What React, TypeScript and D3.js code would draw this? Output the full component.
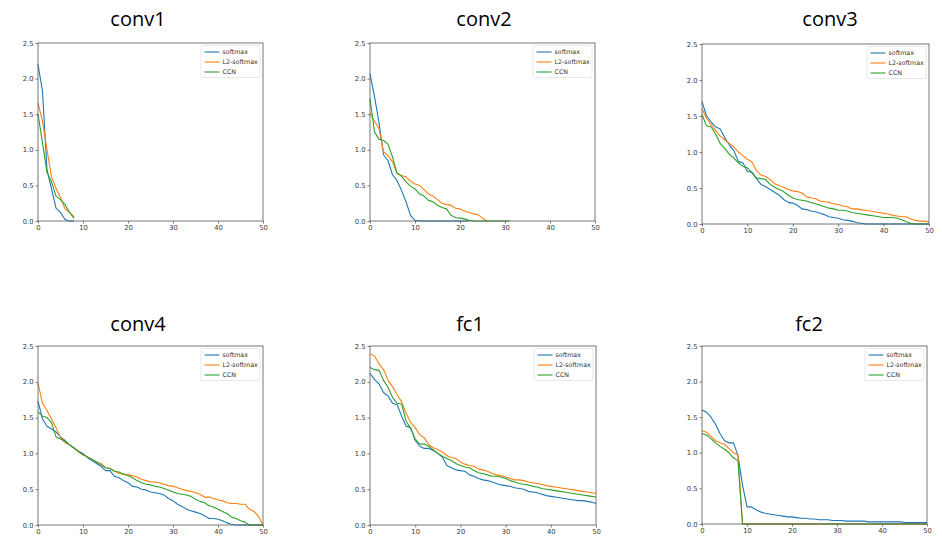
import { useEffect, useRef } from 'react'
import * as d3 from 'd3'

// ── 데이터 ──
const SERIES_NAMES = ['softmax', 'L2-softmax', 'CCN']
const COLORS = ['#1f77b4', '#ff7f0e', '#2ca02c']
const X_TICKS = [0, 10, 20, 30, 40, 50]
const Y_TICKS = [0, 0.5, 1.0, 1.5, 2.0, 2.5]
const TITLES = ['conv1', 'conv2', 'conv3', 'conv4', 'fc1', 'fc2']

const conv1Softmax = [2.2, 1.82, 0.72, 0.45, 0.18, 0.12, 0.02, 0.0, 0.0]
const conv1L2 = [1.66, 1.4, 1.0, 0.62, 0.46, 0.33, 0.17, 0.12, 0.06]
const conv1CCN = [1.5, 1.1, 0.68, 0.55, 0.35, 0.3, 0.23, 0.12, 0.04]

const conv2Softmax = [2.07, 1.75, 1.38, 0.93, 0.85, 0.65, 0.57, 0.43, 0.27, 0.08, 0.01,
  0, 0, 0, 0, 0, 0, 0, 0, 0, 0, 0, 0]
const conv2L2 = [1.52, 1.4, 1.3, 0.97, 0.92, 0.83, 0.67, 0.64, 0.62, 0.56, 0.52, 0.5, 0.44,
  0.38, 0.35, 0.3, 0.25, 0.23, 0.22, 0.18, 0.17, 0.14, 0.12, 0.1, 0.09, 0.04, 0.0]
const conv2CCN = [1.72, 1.25, 1.15, 1.13, 1.08, 0.9, 0.67, 0.63, 0.55, 0.49, 0.45, 0.38, 0.35,
  0.29, 0.27, 0.22, 0.19, 0.17, 0.08, 0.05, 0.04, 0.03, 0.01, 0, 0, 0, 0, 0, 0, 0, 0, 0]

const conv3Softmax = [1.7, 1.5, 1.42, 1.35, 1.32, 1.2, 1.1, 1.02, 0.87, 0.85, 0.73, 0.72, 0.63,
  0.55, 0.52, 0.48, 0.44, 0.4, 0.34, 0.3, 0.29, 0.26, 0.21, 0.2, 0.18, 0.17, 0.15, 0.13, 0.1,
  0.09, 0.08, 0.06, 0.05, 0.04, 0.02, 0.01, 0, 0, 0, 0, 0, 0, 0, 0, 0, 0, 0, 0, 0, 0, 0]
const conv3L2 = [1.6, 1.47, 1.38, 1.3, 1.22, 1.17, 1.12, 1.07, 1.0, 0.95, 0.9, 0.86, 0.74,
  0.68, 0.66, 0.62, 0.56, 0.53, 0.51, 0.48, 0.46, 0.45, 0.43, 0.38, 0.36, 0.35, 0.32, 0.31,
  0.3, 0.28, 0.27, 0.25, 0.24, 0.21, 0.21, 0.2, 0.19, 0.18, 0.17, 0.16, 0.15, 0.14, 0.12,
  0.11, 0.1, 0.1, 0.07, 0.05, 0.04, 0.04, 0.03]
const conv3CCN = [1.52, 1.36, 1.35, 1.25, 1.12, 1.05, 0.97, 0.92, 0.85, 0.8, 0.78, 0.71, 0.64,
  0.63, 0.62, 0.55, 0.51, 0.48, 0.45, 0.4, 0.36, 0.34, 0.33, 0.32, 0.3, 0.28, 0.26, 0.24,
  0.22, 0.21, 0.19, 0.19, 0.18, 0.16, 0.15, 0.14, 0.13, 0.12, 0.11, 0.1, 0.09, 0.09, 0.09,
  0.08, 0.06, 0.03, 0.01, 0, 0, 0, 0]

const conv4Softmax = [1.73, 1.48, 1.38, 1.34, 1.3, 1.23, 1.18, 1.12, 1.07, 1.03, 1.0, 0.94,
  0.9, 0.86, 0.82, 0.76, 0.76, 0.68, 0.66, 0.62, 0.59, 0.54, 0.53, 0.5, 0.49, 0.46, 0.45,
  0.44, 0.42, 0.37, 0.34, 0.29, 0.26, 0.22, 0.2, 0.18, 0.16, 0.13, 0.09, 0.09, 0.08, 0.06,
  0.03, 0.01, 0, 0, 0, 0, 0, 0, 0]
const conv4L2 = [1.98, 1.7, 1.6, 1.48, 1.36, 1.22, 1.15, 1.12, 1.07, 1.02, 0.98, 0.95, 0.92,
  0.88, 0.86, 0.8, 0.79, 0.75, 0.72, 0.71, 0.7, 0.69, 0.67, 0.64, 0.62, 0.6, 0.6, 0.59, 0.57,
  0.55, 0.54, 0.52, 0.5, 0.48, 0.47, 0.45, 0.43, 0.39, 0.39, 0.37, 0.35, 0.34, 0.31, 0.3,
  0.3, 0.29, 0.29, 0.22, 0.19, 0.12, 0.0]
const conv4CCN = [1.58, 1.52, 1.5, 1.43, 1.23, 1.2, 1.17, 1.12, 1.08, 1.03, 0.98, 0.95, 0.92,
  0.88, 0.84, 0.8, 0.79, 0.75, 0.74, 0.71, 0.69, 0.66, 0.62, 0.59, 0.57, 0.56, 0.54, 0.53,
  0.51, 0.49, 0.46, 0.44, 0.43, 0.42, 0.4, 0.36, 0.33, 0.31, 0.27, 0.25, 0.22, 0.19, 0.16,
  0.11, 0.09, 0.06, 0.04, 0, 0, 0, 0]

const fc1Softmax = [2.12, 2.03, 1.97, 1.85, 1.8, 1.7, 1.68, 1.52, 1.38, 1.36, 1.18, 1.1, 1.07,
  1.07, 1.04, 1.0, 0.95, 0.83, 0.8, 0.77, 0.76, 0.75, 0.7, 0.68, 0.65, 0.63, 0.62, 0.6, 0.58,
  0.56, 0.55, 0.54, 0.52, 0.51, 0.5, 0.47, 0.46, 0.45, 0.43, 0.41, 0.4, 0.39, 0.38, 0.37,
  0.36, 0.35, 0.34, 0.34, 0.33, 0.32, 0.3]
const fc1L2 = [2.39, 2.36, 2.25, 2.17, 2.02, 1.93, 1.82, 1.72, 1.56, 1.43, 1.36, 1.26, 1.22,
  1.12, 1.08, 1.05, 1.02, 0.97, 0.94, 0.93, 0.88, 0.85, 0.83, 0.82, 0.78, 0.77, 0.75, 0.72,
  0.7, 0.69, 0.67, 0.65, 0.63, 0.63, 0.62, 0.6, 0.59, 0.58, 0.57, 0.55, 0.54, 0.53, 0.52,
  0.51, 0.5, 0.49, 0.48, 0.47, 0.46, 0.45, 0.44]
const fc1CCN = [2.2, 2.17, 2.16, 2.02, 1.92, 1.78, 1.7, 1.69, 1.45, 1.35, 1.2, 1.13, 1.13, 1.1,
  1.05, 1.0, 0.96, 0.93, 0.9, 0.86, 0.83, 0.81, 0.8, 0.76, 0.73, 0.72, 0.7, 0.68, 0.68, 0.67,
  0.65, 0.62, 0.6, 0.58, 0.57, 0.56, 0.54, 0.53, 0.51, 0.5, 0.49, 0.48, 0.47, 0.46, 0.45,
  0.44, 0.43, 0.42, 0.41, 0.4, 0.39]

const fc2Softmax = [1.6, 1.57, 1.5, 1.4, 1.27, 1.17, 1.14, 1.14, 0.96, 0.55, 0.24, 0.24, 0.2,
  0.17, 0.15, 0.14, 0.13, 0.12, 0.11, 0.1, 0.1, 0.09, 0.08, 0.08, 0.07, 0.07, 0.06, 0.06,
  0.06, 0.05, 0.05, 0.05, 0.04, 0.04, 0.04, 0.04, 0.04, 0.03, 0.03, 0.03, 0.03, 0.03, 0.03,
  0.03, 0.03, 0.02, 0.02, 0.02, 0.02, 0.02, 0.02]
const fc2L2 = [1.31, 1.29, 1.23, 1.17, 1.14, 1.12, 1.06, 1.0, 0.97, 0, 0, 0, 0, 0, 0, 0, 0, 0,
  0, 0, 0, 0, 0, 0, 0, 0, 0, 0, 0, 0, 0, 0, 0, 0, 0, 0, 0, 0, 0, 0, 0, 0, 0, 0, 0, 0, 0, 0,
  0, 0, 0]
const fc2CCN = [1.27, 1.25, 1.2, 1.14, 1.09, 1.05, 1.0, 0.93, 0.89, 0, 0, 0, 0, 0, 0, 0, 0, 0,
  0, 0, 0, 0, 0, 0, 0, 0, 0, 0, 0, 0, 0, 0, 0, 0, 0, 0, 0, 0, 0, 0, 0, 0, 0, 0, 0, 0, 0, 0,
  0, 0, 0]

const PANEL_DATA = [
  [conv1Softmax, conv1L2, conv1CCN],
  [conv2Softmax, conv2L2, conv2CCN],
  [conv3Softmax, conv3L2, conv3CCN],
  [conv4Softmax, conv4L2, conv4CCN],
  [fc1Softmax, fc1L2, fc1CCN],
  [fc2Softmax, fc2L2, fc2CCN],
]

// ── 레이아웃 (플롯 영역 픽셀 좌표, 제목 위치) ──
const W = 942
const H = 550
const BOXES = [
  { l: 38, r: 263, t: 43, b: 221, tx: 138, ty: 26 },
  { l: 370, r: 595, t: 43, b: 221, tx: 484, ty: 26 },
  { l: 702, r: 929, t: 44, b: 224, tx: 830, ty: 26 },
  { l: 38, r: 263, t: 346, b: 525, tx: 138, ty: 331 },
  { l: 370, r: 596, t: 346, b: 525, tx: 470, ty: 331 },
  { l: 702, r: 927, t: 346, b: 524, tx: 809, ty: 331 },
]
const TICK_FONT = 'DejaVu Sans, sans-serif'

export default function App() {
  const svgRef = useRef<SVGSVGElement>(null)

  useEffect(() => {
    const svg = d3.select(svgRef.current)
    svg.selectAll('*').remove()
    svg.append('rect').attr('width', W).attr('height', H).attr('fill', '#fff')

    BOXES.forEach((bx, pi) => {
      const x = d3.scaleLinear().domain([0, 50]).range([bx.l, bx.r])
      const y = d3.scaleLinear().domain([0, 2.5]).range([bx.b, bx.t])
      const g = svg.append('g')

      // ── 제목 ──
      g.append('text')
        .attr('x', bx.tx).attr('y', bx.ty)
        .attr('text-anchor', 'middle')
        .attr('font-family', 'Open Sans, Noto Sans, sans-serif')
        .attr('font-size', 20).attr('fill', '#000')
        .text(TITLES[pi])

      // ── 곡선 ──
      const line = d3.line<number>().x((_, i) => x(i)).y((d) => y(d))
      PANEL_DATA[pi].forEach((vals, si) => {
        g.append('path').datum(vals).attr('d', line)
          .attr('fill', 'none').attr('stroke', COLORS[si])
          .attr('stroke-width', 1.1).attr('stroke-linejoin', 'round')
      })

      // ── 축 ──
      const ax = g.append('g').attr('transform', `translate(0,${bx.b})`)
        .call(d3.axisBottom(x).tickValues(X_TICKS).tickSize(2.5).tickPadding(2).tickFormat(d3.format('d')))
      const ay = g.append('g').attr('transform', `translate(${bx.l},0)`)
        .call(d3.axisLeft(y).tickValues(Y_TICKS).tickSize(2.5).tickPadding(2).tickFormat(d3.format('.1f')))
      ;[ax, ay].forEach((a) => {
        a.select('.domain').remove()
        a.selectAll('line').attr('stroke', '#444').attr('stroke-width', 0.7)
        a.selectAll('text').attr('font-size', 6.8).attr('fill', '#3a3a3a').attr('font-family', TICK_FONT)
      })
      g.append('rect')
        .attr('x', bx.l).attr('y', bx.t)
        .attr('width', bx.r - bx.l).attr('height', bx.b - bx.t)
        .attr('fill', 'none').attr('stroke', '#555').attr('stroke-width', 0.8)

      // ── 범례 ──
      const lg = g.append('g').attr('transform', `translate(${bx.r - 62},${bx.t + 2.5})`)
      lg.append('rect').attr('width', 59).attr('height', 32).attr('rx', 1.5)
        .attr('fill', '#fff').attr('stroke', '#ddd').attr('stroke-width', 0.7)
      SERIES_NAMES.forEach((name, si) => {
        const yy = 6.5 + si * 10
        lg.append('line').attr('x1', 3.5).attr('x2', 18.5).attr('y1', yy).attr('y2', yy)
          .attr('stroke', COLORS[si]).attr('stroke-width', 1.1)
        lg.append('text').attr('x', 21.5).attr('y', yy + 2.3)
          .attr('font-size', 6.3).attr('fill', '#333').attr('font-family', TICK_FONT)
          .text(name)
      })
    })
  }, [])

  return (
    <svg ref={svgRef} width={W} height={H}
      style={{ position: 'absolute', left: 0, top: 0, display: 'block' }} />
  )
}
